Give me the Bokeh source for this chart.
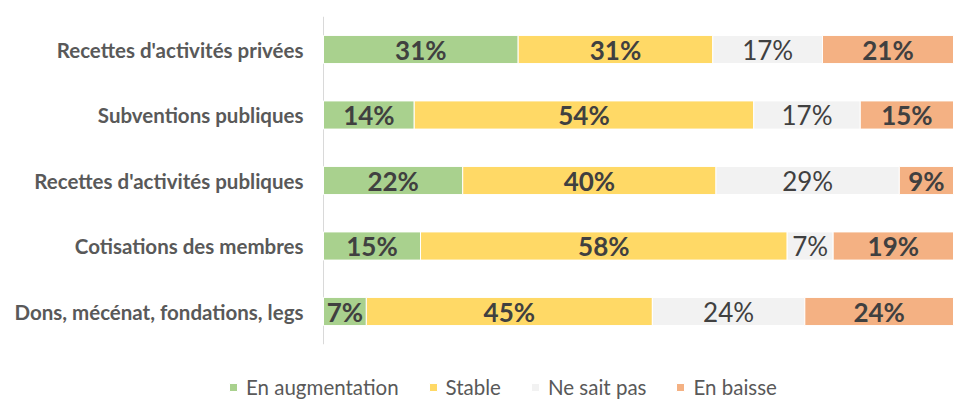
from bokeh.plotting import figure
from bokeh.models import ColumnDataSource, Range1d, Legend, LegendItem
from bokeh.core.properties import value
from bokeh.embed import file_html
from bokeh.resources import INLINE

categories = ["Recettes d'activités privées", "Subventions publiques",
              "Recettes d'activités publiques", "Cotisations des membres",
              "Dons, mécénat, fondations, legs"]
series_names = ["En augmentation", "Stable", "Ne sait pas", "En baisse"]
en_augmentation = [30.9, 14.4, 22.1, 15.4, 6.8]
stable = [30.9, 53.9, 40.2, 58.2, 45.4]
ne_sait_pas = [17.4, 16.9, 29.1, 7.3, 24.2]
en_baisse = [20.8, 14.8, 8.6, 19.1, 23.6]
colors = ["#A9D18E", "#FFD966", "#F2F2F2", "#F4B183"]

series = [en_augmentation, stable, ne_sait_pas, en_baisse]
FONT = "Lato"

W, H = 955, 399
PLOT_LEFT, PLOT_RIGHT = 323, 953          # pixel span of 0..100 %
ROW_PX, FIRST_ROW_PX = 65.5, 49           # row pitch / first row centre (from top)
px_per_unit = (PLOT_RIGHT - PLOT_LEFT) / 100.0

p = figure(width=W, height=H, output_backend="svg", toolbar_location=None,
           x_axis_location=None, y_axis_location=None,
           x_range=Range1d(-PLOT_LEFT / px_per_unit, 100 + (W - PLOT_RIGHT) / px_per_unit),
           y_range=Range1d((H - FIRST_ROW_PX) / ROW_PX, -FIRST_ROW_PX / ROW_PX),
           min_border_left=0, min_border_right=0, min_border_top=0, min_border_bottom=0)
p.outline_line_color = None
p.grid.visible = False
p.background_fill_color = "white"
p.border_fill_color = "white"

ypos = list(range(len(categories)))

# category axis: line + labels
p.segment(x0=[0], x1=[0], y0=[-0.5], y1=[len(categories) - 0.5],
          line_color="#D9D9D9", line_width=1)
p.text(x=[0] * len(categories), y=ypos, text=categories, x_offset=-20,
       text_align="right", text_baseline="middle", text_font=value(FONT),
       text_font_style="bold", text_font_size="20.5px", text_color="#595959")

renderers = []
lefts = [0.0] * len(categories)
for idx, (name, vals, col) in enumerate(zip(series_names, series, colors)):
    rights = [l + v for l, v in zip(lefts, vals)]
    src = ColumnDataSource(dict(y=ypos, left=lefts, right=rights,
                                mid=[(l + r) / 2 for l, r in zip(lefts, rights)],
                                lab=[f"{round(v)}%" for v in vals]))
    r = p.hbar(y="y", left="left", right="right", height=0.43, source=src,
               fill_color=col, line_color="white", line_width=1)
    renderers.append(r)
    p.text(x="mid", y="y", text="lab", source=src, text_align="center",
           text_baseline="middle", text_font=value(FONT),
           text_font_style="normal" if idx == 2 else "bold",
           text_font_size="26px", text_color="#404040")
    lefts = rights

legend = Legend(items=[LegendItem(label=n, renderers=[r]) for n, r in zip(series_names, renderers)],
                orientation="horizontal", location=(228, 0),
                glyph_width=10, glyph_height=10, label_text_font=FONT,
                label_text_font_size="20.5px", label_text_color="#595959",
                spacing=29, border_line_color=None, background_fill_alpha=0,
                label_standoff=8, padding=0, margin=0)
p.add_layout(legend)

open("out.html", "w").write(file_html(p, INLINE))
